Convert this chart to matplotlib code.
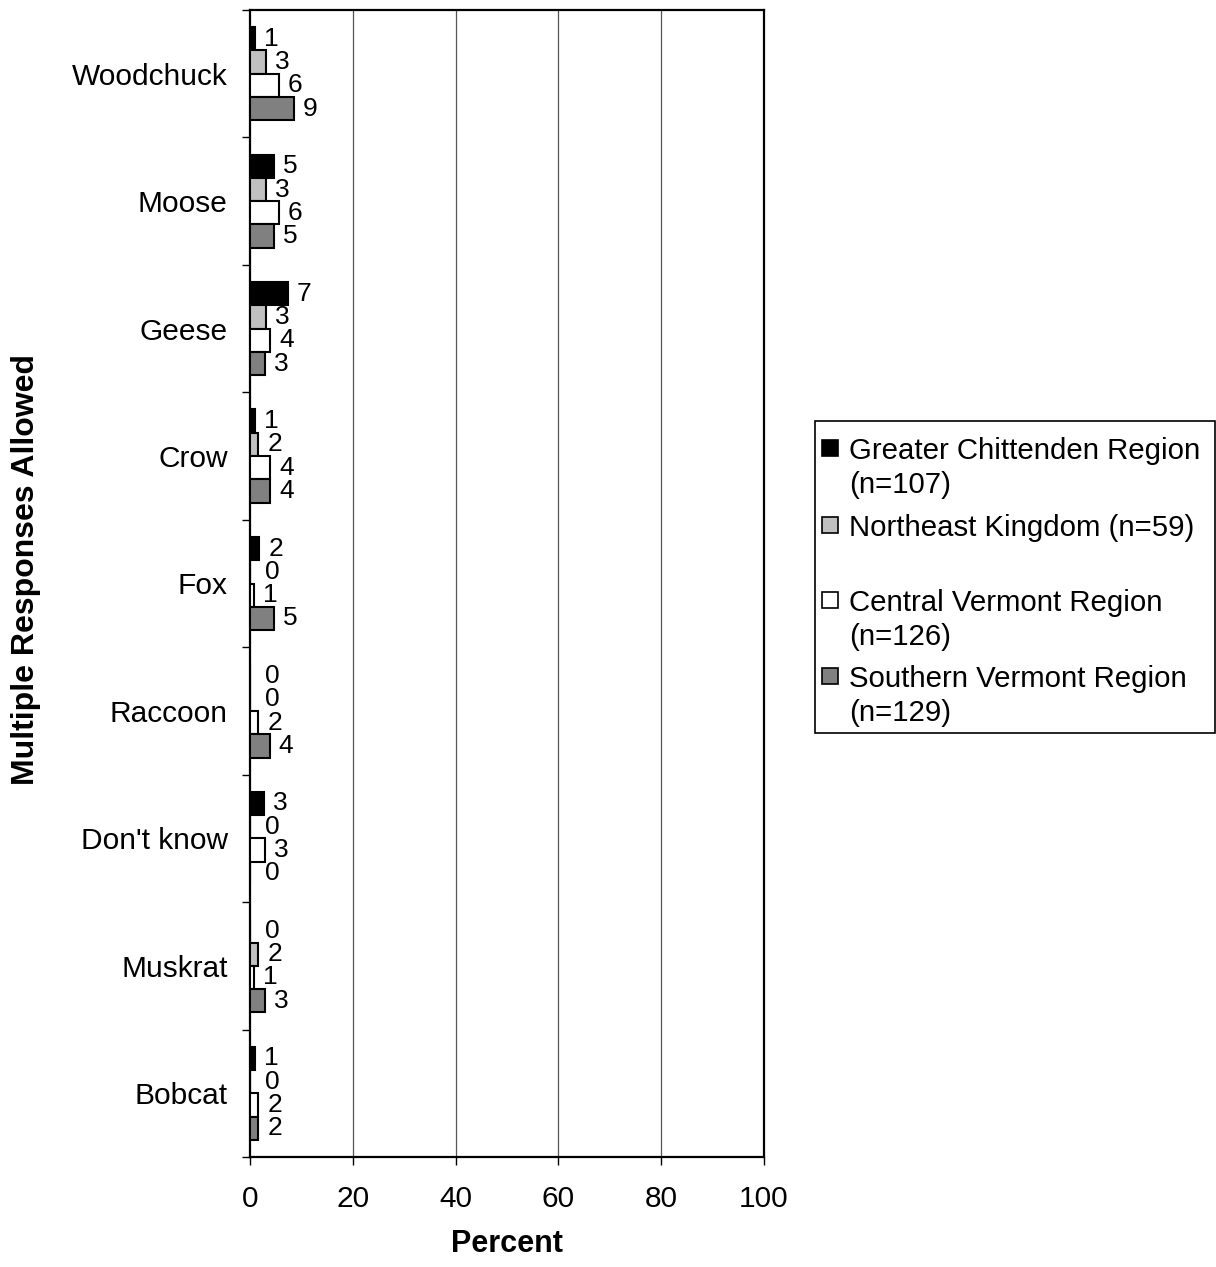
import numpy as np
import matplotlib
matplotlib.use("Agg")
import matplotlib.pyplot as plt
from matplotlib.patches import Rectangle

plt.rcParams['font.family'] = ['Liberation Sans', 'DejaVu Sans']

categories = ["Woodchuck", "Moose", "Geese", "Crow", "Fox", "Raccoon",
              "Don't know", "Muskrat", "Bobcat"]
series_names = [["Greater Chittenden Region", "(n=107)"],
                ["Northeast Kingdom (n=59)"],
                ["Central Vermont Region", "(n=126)"],
                ["Southern Vermont Region", "(n=129)"]]
chittenden = [1.0, 4.7, 7.3, 0.9, 1.8, 0.0, 2.8, 0.0, 0.9]
northeast = [3.2, 3.2, 3.1, 1.6, 0.0, 0.0, 0.0, 1.6, 0.0]
central = [5.6, 5.6, 3.9, 3.9, 0.7, 1.6, 3.0, 0.7, 1.6]
southern = [8.6, 4.6, 3.0, 3.9, 4.6, 3.8, 0.0, 3.0, 1.6]
xticks = [0, 20, 40, 60, 80, 100]

series = [chittenden, northeast, central, southern]
colors = ["#000000", "#c0c0c0", "#ffffff", "#808080"]

W, H = 1216, 1267
fig = plt.figure(figsize=(W / 100, H / 100), dpi=100)
ax = fig.add_axes([250 / W, 1 - 1157 / H, (764 - 250) / W, (1157 - 10) / H])

n = len(categories)
y = np.arange(n)
h = 0.183
offsets = [-1.5 * h, -0.5 * h, 0.5 * h, 1.5 * h]
for vals, col, off in zip(series, colors, offsets):
    bars = ax.barh(y + off, vals, height=h, color=col, edgecolor="black",
                   linewidth=1.5, zorder=3)
    for b, v in zip(bars, vals):
        dx = 6.5 if v > 0 else 11
        ax.annotate(f"{v:.0f}", xy=(v, b.get_y() + b.get_height() / 2),
                    xytext=(dx, 0), textcoords="offset points",
                    ha="left", va="center", fontsize=19, zorder=4)

ax.set_xlim(0, 100)
ax.set_ylim(n - 0.5, -0.5)
ax.set_xticks(xticks)
ax.set_xticklabels([str(t) for t in xticks], fontsize=21.5)
ax.tick_params(axis="x", direction="out", length=6, width=1, pad=14)
ax.set_yticks(np.arange(-0.5, n, 1))
ax.set_yticklabels([])
ax.set_yticks(y, minor=True)
ax.set_yticklabels(categories, minor=True, fontsize=21.5)
ax.tick_params(axis="y", which="major", direction="out", length=6, width=1)
ax.tick_params(axis="y", which="minor", length=0, pad=16)

for t in xticks[1:-1]:
    ax.axvline(t, color="#555555", lw=0.9, zorder=1)
for s in ax.spines.values():
    s.set_linewidth(1.6)
    s.set_color("black")

ax.set_xlabel("Percent", fontsize=22, fontweight="bold", labelpad=12)
fig.text(26 / W, 1 - 570 / H, "Multiple Responses Allowed", rotation=90,
         ha="center", va="center", fontsize=23, fontweight="bold")

# legend (drawn manually to match the original layout)
fig.patches.append(Rectangle((815 / W, 1 - 733 / H), 400 / W, 312 / H,
                             transform=fig.transFigure, facecolor="white",
                             edgecolor="black", lw=1.2))
first_line_y = [448, 525, 600, 676]
for lines, col, ly in zip(series_names, colors, first_line_y):
    fig.patches.append(Rectangle((822 / W, 1 - (ly + 8) / H), 16 / W, 16 / H,
                                 transform=fig.transFigure, facecolor=col,
                                 edgecolor="black", lw=1.2))
    for k, line in enumerate(lines):
        fig.text(849 / W, 1 - (ly + 11 + 34 * k) / H, line, ha="left",
                 va="baseline", fontsize=21.2)

fig.savefig("out.png", dpi=100)
